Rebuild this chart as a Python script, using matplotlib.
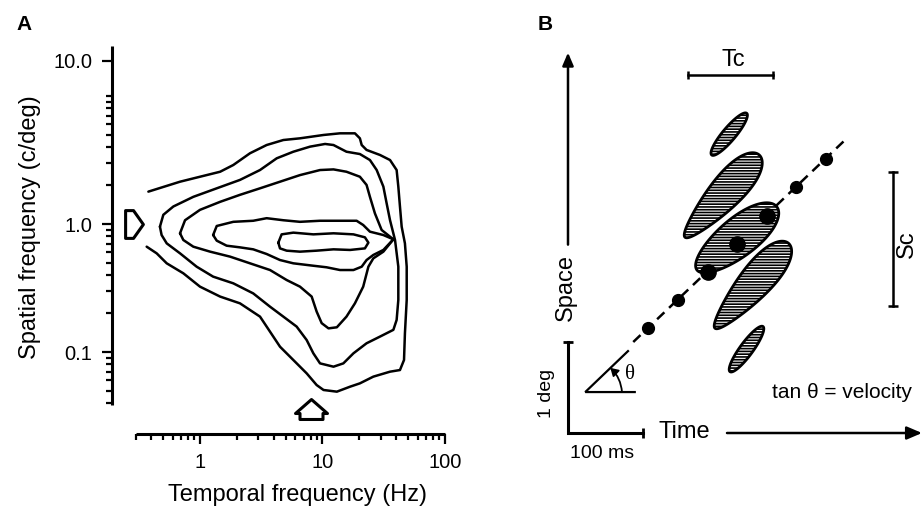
import numpy as np
import matplotlib
matplotlib.use('Agg')
import matplotlib.pyplot as plt
from matplotlib.path import Path
from matplotlib.patches import Polygon
from matplotlib.ticker import NullFormatter
import matplotlib.transforms as mtransforms

plt.rcParams['font.family'] = ['Liberation Sans', 'DejaVu Sans']
plt.rcParams['hatch.linewidth'] = 1.2
plt.rcParams['hatch.color'] = 'black'

# ---------------- Panel A data: contour lines (Hz, c/deg) ----------------
c1_tf = [0.379, 0.687, 1.0, 1.46, 1.87, 2.56, 3.50, 4.79, 6.55, 10.2, 13.9, 18.4, 20.2, 20.9, 22.9,
         29.5, 35.6, 40.3, 41.6, 42.9, 44.3, 47.1, 48.7, 48.7, 47.1, 46.3, 42.9, 35.6, 26.0, 20.2,
         16.8, 13.1, 10.2, 8.96, 7.43, 5.78, 4.50, 3.50, 3.09, 2.12, 1.46, 1.0, 0.731, 0.535, 0.443, 0.367]
c1_sf = [1.79, 2.14, 2.34, 2.56, 2.89, 3.57, 4.14, 4.53, 4.67, 4.96, 5.11, 5.11, 4.67, 4.14, 3.79,
         3.46, 3.16, 2.64, 1.96, 1.37, 0.953, 0.706, 0.464, 0.255, 0.140, 0.0866, 0.0723, 0.0702, 0.0642, 0.0569,
         0.0536, 0.0490, 0.0505, 0.0552, 0.0681, 0.0866, 0.110, 0.158, 0.189, 0.240, 0.271, 0.324, 0.412, 0.493, 0.590, 0.665]

c2_tf = [0.471, 0.502, 0.606, 0.882, 1.37, 2.12, 3.09, 4.23, 5.78, 7.91, 10.5, 12.3, 15.7, 20.2, 24.4,
         27.7, 31.4, 33.4, 35.6, 39.1, 41.6, 41.6, 40.3, 37.9, 29.5, 22.9, 17.9, 14.8, 12.3, 9.55,
         8.42, 7.43, 6.15, 4.79, 3.73, 2.72, 1.87, 1.28, 0.939, 0.687, 0.535, 0.486]
c2_sf = [0.953, 1.18, 1.37, 1.63, 1.90, 2.21, 2.64, 3.26, 3.67, 4.02, 4.22, 4.14, 3.67, 3.52, 3.16,
         2.64, 1.96, 1.45, 1.07, 0.750, 0.464, 0.255, 0.178, 0.149, 0.132, 0.117, 0.0977, 0.0815, 0.0768, 0.0815,
         0.0977, 0.124, 0.158, 0.189, 0.226, 0.287, 0.344, 0.388, 0.464, 0.590, 0.706, 0.820]

c3_tf = [0.687, 0.755, 1.0, 1.46, 2.12, 3.09, 4.50, 6.55, 9.55, 12.3, 15.7, 20.2, 22.9, 24.4, 26.8,
         30.4, 37.9, 31.4, 26.0, 23.7, 21.5, 18.4, 15.7, 13.1, 11.2, 9.85, 8.96, 8.16, 6.55, 5.10,
         3.73, 2.56, 1.76, 1.21, 0.882, 0.731]
c3_sf = [0.846, 1.07, 1.29, 1.49, 1.69, 1.90, 2.14, 2.41, 2.64, 2.67, 2.56, 2.34, 2.02, 1.63, 1.21,
         0.898, 0.759, 0.608, 0.539, 0.464, 0.324, 0.240, 0.189, 0.156, 0.153, 0.168, 0.207, 0.271, 0.324, 0.365,
         0.437, 0.493, 0.556, 0.608, 0.665, 0.750]

c4_tf = [1.28, 1.37, 1.87, 2.72, 3.50, 4.79, 6.55, 9.55, 13.9, 19.0, 21.5, 24.4, 31.4, 37.9, 31.4,
         26.0, 22.9, 20.9, 17.9, 13.9, 10.8, 8.42, 5.78, 4.50, 3.50, 2.72, 2.12, 1.65, 1.37]
c4_sf = [0.820, 0.965, 1.04, 1.06, 1.11, 1.07, 1.04, 1.06, 1.06, 1.06, 0.982, 0.871, 0.820, 0.759, 0.627,
         0.573, 0.523, 0.464, 0.437, 0.437, 0.459, 0.472, 0.493, 0.523, 0.583, 0.634, 0.657, 0.677, 0.741]

c5_tf = [4.36, 4.64, 5.78, 8.42, 12.3, 17.9, 22.2, 23.7, 22.2, 16.8, 12.3, 8.96, 6.55, 5.10, 4.50]
c5_sf = [0.715, 0.830, 0.856, 0.830, 0.846, 0.830, 0.787, 0.715, 0.645, 0.627, 0.634, 0.619, 0.608, 0.619, 0.645]

peak_tf = 8.0      # Hz (arrow on temporal axis)
peak_sf = 1.0      # c/deg (arrow on spatial axis)

x_major = [1, 10, 100]
x_major_labels = ['1', '10', '100']
y_major = [0.1, 1.0, 18.8]
y_major_labels = ['0.1', '1.0', '10.0']

# ---------------- Panel B data (ms, deg) ----------------
dot_t = [107, 146.5, 186, 225.5, 265, 304.5, 344]
dot_s = [1.15, 1.46, 1.77, 2.08, 2.39, 2.70, 3.01]
dot_big = [False, False, True, True, True, False, False]
dash_t = [87, 372]
dash_s = [1.0, 3.24]

# blobs: (start t, start s), (end t, end s), half width (px), taper
blob_p1 = [(191.6, 3.055), (156, 2.151), (172, 1.79), (196, 1.151), (216, 0.674)]
blob_p2 = [(238.3, 3.513), (255, 3.055), (278.3, 2.487), (294, 2.085), (260, 1.170)]
blob_hw = [6.5, 15.5, 19.0, 15.5, 6.5]
blob_taper = [0.0, 0.35, 0.1, 0.35, 0.0]

tc_t = [160, 273]
tc_s = 3.93
sc_t = 433
sc_s = [1.40, 2.87]

# ---------------- Figure ----------------
W, H = 922, 509
fig = plt.figure(figsize=(W / 100, H / 100), dpi=100)

# Panel A
axA = fig.add_axes([105 / W, (H - 440) / H, 345 / W, 400 / H])
axA.set_xscale('log')
axA.set_yscale('log')
axA.set_xlim(0.1677, 109.9)
axA.set_ylim(0.02054, 27.38)
axA.patch.set_alpha(0)

for tf, sf, closed in [(c1_tf, c1_sf, False), (c2_tf, c2_sf, True), (c3_tf, c3_sf, True),
                       (c4_tf, c4_sf, True), (c5_tf, c5_sf, True)]:
    x = list(tf) + ([tf[0]] if closed else [])
    y = list(sf) + ([sf[0]] if closed else [])
    axA.plot(x, y, color='black', lw=1.8, solid_joinstyle='round', solid_capstyle='round')

for s in ['top', 'right']:
    axA.spines[s].set_visible(False)
axA.spines['left'].set_position(('data', 0.1913))
axA.spines['left'].set_bounds(0.0385, 24.6)
axA.spines['bottom'].set_position(('data', 0.02288))
axA.spines['bottom'].set_bounds(0.30, 100)
for s in ['left', 'bottom']:
    axA.spines[s].set_linewidth(2.2)
    axA.spines[s].set_capstyle('butt')

axA.set_xticks(x_major, labels=x_major_labels)
axA.set_xticks([m * 10.0 ** k for k in (-1, 0, 1) for m in range(2, 10) if 0.29 < m * 10.0 ** k < 100],
               minor=True)
axA.set_yticks(y_major, labels=y_major_labels)
axA.set_yticks([m * 10.0 ** k for k in (-2, -1, 0, 1) for m in range(1, 10)
                if (0.039 < m * 10.0 ** k < 11 and m != 1) or (m == 1 and k == 1)], minor=True)
axA.xaxis.set_minor_formatter(NullFormatter())
axA.yaxis.set_minor_formatter(NullFormatter())
axA.tick_params(which='major', direction='out', length=7, width=1.6, labelsize=14.5, pad=7)
axA.tick_params(which='minor', direction='out', length=4.5, width=1.6)

axA.set_xlabel('Temporal frequency (Hz)', fontsize=17, va='center')
axA.xaxis.set_label_coords(0.557, -0.1375)
axA.set_ylabel('Spatial frequency (c/deg)', fontsize=17, va='center')
axA.yaxis.set_label_coords(-0.217, 0.5325)

# peak arrows (custom markers)
right_arrow = Path([(-0.64, 1), (-0.07, 1), (0.64, 0), (-0.07, -1), (-0.64, -1), (-0.64, 1)],
                   [Path.MOVETO] + [Path.LINETO] * 4 + [Path.CLOSEPOLY])
up_arrow = Path([(0, 0.625), (1, -0.25), (0.72, -0.25), (0.72, -0.625), (-0.72, -0.625),
                 (-0.72, -0.25), (-1, -0.25), (0, 0.625)],
                [Path.MOVETO] + [Path.LINETO] * 6 + [Path.CLOSEPOLY])
trA_y = mtransforms.blended_transform_factory(axA.transAxes, axA.transData)
axA.plot([(134 - 105) / 345], [peak_sf], marker=right_arrow, markersize=20, mfc='white', mec='black',
         mew=2.2, transform=trA_y, clip_on=False, ls='none')
trA_x = mtransforms.blended_transform_factory(axA.transData, axA.transAxes)
axA.plot([peak_tf], [(440 - 409) / 400], marker=up_arrow, markersize=23, mfc='white', mec='black',
         mew=2.2, transform=trA_x, clip_on=False, ls='none')

fig.text(24 / W, 1 - 24 / H, 'A', fontsize=15, fontweight='bold', ha='center', va='center')
fig.text(545 / W, 1 - 24 / H, 'B', fontsize=15, fontweight='bold', ha='center', va='center')

# Panel B
axB = fig.add_axes([460 / W, 0, 462 / W, 1])
axB.set_xlim(-144, 472)
axB.set_ylim(-0.835, 4.758)
axB.axis('off')

lw = 1.8
# Space arrow
axB.annotate('', xy=(0, 4.18), xytext=(0, 2.07),
             arrowprops=dict(arrowstyle='-|>,head_length=0.7,head_width=0.3', lw=lw, color='black',
                             shrinkA=0, shrinkB=0, mutation_scale=11))
# Time arrow
axB.annotate('', xy=(472, 0), xytext=(212, 0),
             arrowprops=dict(arrowstyle='-|>,head_length=0.7,head_width=0.3', lw=lw, color='black',
                             shrinkA=0, shrinkB=0, mutation_scale=13))
# scale bars
axB.plot([0, 0, 100], [1.0, 0, 0], color='black', lw=2.2, solid_joinstyle='miter')
axB.plot([0], [1.0], marker='_', ms=7, mew=2, color='black')
axB.plot([100], [0], marker='|', ms=7, mew=2, color='black')
# Tc and Sc bars
axB.plot(tc_t, [tc_s, tc_s], color='black', lw=lw, marker='|', ms=6, mew=1.8)
axB.plot([sc_t, sc_t], sc_s, color='black', lw=lw, marker='_', ms=7, mew=1.8)

# dashed trajectory
axB.plot(dash_t, dash_s, color='black', lw=1.8, ls=(0, (4, 2.6)), zorder=1)


def blob(ax, p1, p2, hw, taper):
    a = ax.transData.transform(p1)
    b = ax.transData.transform(p2)
    c = (a + b) / 2
    d = b - a
    L = np.hypot(*d) / 2
    u = d / (2 * L)
    n = np.array([-u[1], u[0]])
    th = np.linspace(0, 2 * np.pi, 120)
    along = L * np.cos(th)
    across = hw * np.sin(th) * (1 + taper * np.cos(th))
    pts = c + np.outer(along, u) + np.outer(across, n)
    data = ax.transData.inverted().transform(pts)
    ax.add_patch(Polygon(data, closed=True, facecolor='white', edgecolor='black',
                         hatch='------', lw=2.0, zorder=2))


for p1, p2, hw, tp in zip(blob_p1, blob_p2, blob_hw, blob_taper):
    blob(axB, p1, p2, hw, tp)

for t, s, big in zip(dot_t, dot_s, dot_big):
    axB.plot([t], [s], 'o', color='black', ms=11 if big else 8.5, zorder=3)

# angle
axB.plot([80, 23, 89], [0.90, 0.45, 0.45], color='black', lw=1.6, solid_joinstyle='miter')
axB.annotate('', xy=(56.4, 0.716), xytext=(72.0, 0.45),
             arrowprops=dict(arrowstyle='-|>,head_length=0.5,head_width=0.3', lw=1.3, color='black',
                             shrinkA=0, shrinkB=0, mutation_scale=9,
                             connectionstyle='arc3,rad=0.19'))
axB.text(83, 0.64, 'θ', fontsize=15, family=['Liberation Serif', 'DejaVu Serif'], ha='center', va='center')

axB.text(365, 0.44, 'tan θ = velocity', fontsize=15, ha='center', va='center')
axB.text(155, -0.055, 'Time', fontsize=17, ha='center', va='baseline')
axB.text(-3, 1.60, 'Space', fontsize=17, rotation=90, ha='center', va='center', rotation_mode='anchor')
axB.text(-29, 0.44, '1 deg', fontsize=14, rotation=90, ha='center', va='center', rotation_mode='anchor')
axB.text(45, -0.22, '100 ms', fontsize=14, ha='center', va='center')
axB.text(220, 4.10, 'Tc', fontsize=17, ha='center', va='center')
axB.text(452, 2.07, 'Sc', fontsize=17, rotation=90, ha='center', va='center', rotation_mode='anchor')

fig.savefig('out.png', dpi=100)
